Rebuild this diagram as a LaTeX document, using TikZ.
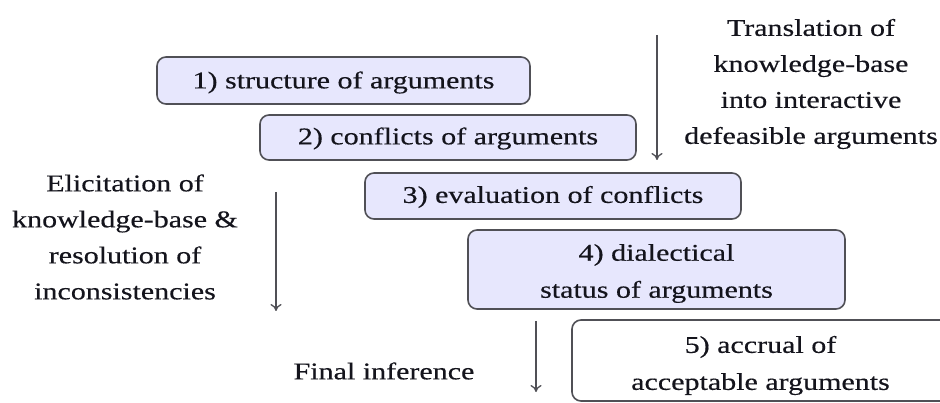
\documentclass[tikz,border=0pt]{standalone}
\usepackage{fontspec}
\setmainfont{Liberation Serif}[FakeStretch=1.25,FakeBold=0.4]
\usetikzlibrary{arrows.meta}
\definecolor{boxfill}{RGB}{231,231,253}
\definecolor{boxline}{RGB}{80,80,86}
\definecolor{txt}{RGB}{20,20,28}
% lower a stage label a little without changing its reported size
\newcommand{\lowerby}[2]{\raisebox{-#1}[\height][\depth]{\parbox{370pt}{\centering #2}}}
\tikzset{
  stage/.style={draw=boxline, line width=1.6pt, rounded corners=9pt,
    fill=boxfill, minimum width=#1, inner sep=0pt, align=center,
    text=txt, font=\fontsize{24}{37}\selectfont},
  stage/.default=376pt,
  caption/.style={align=center, text=txt, inner sep=0pt,
    font=\fontsize{24}{36}\selectfont},
  flow/.style={draw=boxline, line width=1.3pt, -{To[length=7pt,width=11pt]}}
}
\begin{document}
\begin{tikzpicture}[x=1pt,y=-1pt]
  \useasboundingbox (0,0) rectangle (940,403);
  \clip (0,0) rectangle (940,403);

  % the five stages of the argumentation process
  \node[stage=373pt, minimum height=47pt] (s1) at (343.5,80.5) {\lowerby{2pt}{1) structure of arguments}};
  \node[stage, minimum height=45pt] (s2) at (448,137.5) {\lowerby{1pt}{2) conflicts of arguments}};
  \node[stage, minimum height=46pt] (s3) at (553,196) {\lowerby{1pt}{3) evaluation of conflicts}};
  \node[stage=377pt, minimum height=79pt] (s4) at (656.5,269.5) {\lowerby{4pt}{4) dialectical\\status of arguments}};
  \node[stage=377pt, minimum height=81pt, fill=white] (s5) at (760.5,360.5) {\lowerby{5pt}{5) accrual of\\acceptable arguments}};

  % side captions
  \node[caption] (trans) at (811,84) {Translation of\\knowledge-base\\into interactive\\defeasible arguments};
  \node[caption] (elic) at (125,237) {Elicitation of\\knowledge-base \&\\resolution of\\inconsistencies};
  \node[caption] (final) at (384,371) {Final inference};

  % downward arrows
  \coordinate (t0) at (657,35);  \coordinate (t1) at (657,160);
  \coordinate (e0) at (276,192); \coordinate (e1) at (276,311);
  \coordinate (f0) at (536,321); \coordinate (f1) at (536,392);
  \draw[flow] (t0) -- (t1);
  \draw[flow] (e0) -- (e1);
  \draw[flow] (f0) -- (f1);
\end{tikzpicture}
\end{document}
